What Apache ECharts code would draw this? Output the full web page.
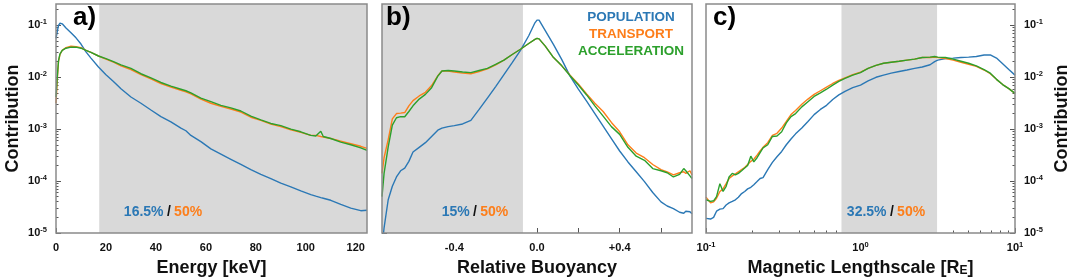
<!DOCTYPE html>
<html>
<head>
<meta charset="utf-8">
<script src="https://cdn.jsdelivr.net/npm/echarts@6/dist/echarts.min.js"></script>
<style>
  html, body { margin: 0; padding: 0; background: #fff; }
  #chart { width: 1072px; height: 279px; }
</style>
</head>
<body>
<div id="chart"></div>
<script>
// ---- panel a: energy ----
const energyKeV = [0, 0.5, 1, 1.6, 2.5, 4, 6, 8, 10, 12, 14, 17, 20, 23, 26, 30, 34, 38, 42, 46, 50, 52, 54, 58, 62, 66, 70, 74, 78, 82, 86, 90, 94, 98, 102, 104, 106, 107, 110, 114, 118, 122, 124.5]
const energyPop = [0.0562, 0.0759, 0.100, 0.110, 0.107, 0.0891, 0.0724, 0.0575, 0.0437, 0.0309, 0.0234, 0.0158, 0.0112, 0.00832, 0.00603, 0.00417, 0.00316, 0.00234, 0.00174, 0.00138, 0.00105, 0.000933, 0.000759, 0.000575, 0.000417, 0.000331, 0.000263, 0.000209, 0.000166, 0.000135, 0.000112, 0.0000912, 0.0000776, 0.0000646, 0.0000550, 0.0000513, 0.0000479, 0.0000468, 0.0000427, 0.0000355, 0.0000302, 0.0000269, 0.0000275]
const energyTrans = [0.00316, 0.00891, 0.0200, 0.0275, 0.0331, 0.0372, 0.0398, 0.0389, 0.0372, 0.0331, 0.0302, 0.0257, 0.0224, 0.0195, 0.0166, 0.0141, 0.0112, 0.00933, 0.00759, 0.00646, 0.00562, 0.00525, 0.00479, 0.00380, 0.00316, 0.00275, 0.00245, 0.00214, 0.00170, 0.00148, 0.00126, 0.00112, 0.000977, 0.000871, 0.000759, 0.000759, 0.000724, 0.000708, 0.000661, 0.000589, 0.000525, 0.000468, 0.000427]
const energyAccel = [0.00417, 0.0100, 0.0209, 0.0282, 0.0331, 0.0363, 0.0380, 0.0380, 0.0363, 0.0331, 0.0302, 0.0257, 0.0229, 0.0200, 0.0174, 0.0148, 0.0117, 0.00977, 0.00794, 0.00676, 0.00589, 0.00550, 0.00501, 0.00398, 0.00339, 0.00288, 0.00257, 0.00224, 0.00178, 0.00151, 0.00129, 0.00117, 0.00100, 0.000891, 0.000759, 0.000741, 0.000912, 0.000724, 0.000661, 0.000562, 0.000501, 0.000437, 0.000389]

// ---- panel b: relative buoyancy ----
const buoyancy = [-0.75, -0.74, -0.72, -0.70, -0.68, -0.66, -0.64, -0.62, -0.60, -0.57, -0.54, -0.51, -0.48, -0.46, -0.43, -0.40, -0.36, -0.32, -0.28, -0.24, -0.20, -0.16, -0.12, -0.08, -0.04, -0.01, 0.0, 0.01, 0.04, 0.08, 0.12, 0.16, 0.20, 0.24, 0.28, 0.32, 0.36, 0.40, 0.44, 0.48, 0.52, 0.56, 0.60, 0.63, 0.66, 0.69, 0.71, 0.72, 0.74, 0.75]
const buoyPop = [0.0000050, 0.0000126, 0.0000437, 0.0000794, 0.000120, 0.000158, 0.000178, 0.000240, 0.000363, 0.000447, 0.000550, 0.000724, 0.000955, 0.00105, 0.00112, 0.00117, 0.00126, 0.00148, 0.00240, 0.00398, 0.00661, 0.0112, 0.0191, 0.0331, 0.0631, 0.112, 0.126, 0.126, 0.0794, 0.0427, 0.0219, 0.0105, 0.00589, 0.00347, 0.00200, 0.00115, 0.000661, 0.000380, 0.000234, 0.000151, 0.0000977, 0.0000603, 0.0000398, 0.0000331, 0.0000295, 0.0000251, 0.0000240, 0.0000263, 0.0000257, 0.0000234]
const buoyTrans = [0.000141, 0.000282, 0.000631, 0.00158, 0.00200, 0.00204, 0.00209, 0.00282, 0.00355, 0.00437, 0.00513, 0.00692, 0.0107, 0.0132, 0.0132, 0.0126, 0.0120, 0.0117, 0.0129, 0.0145, 0.0174, 0.0214, 0.0275, 0.0347, 0.0447, 0.0537, 0.0562, 0.0550, 0.0398, 0.0240, 0.0166, 0.0110, 0.00741, 0.00479, 0.00316, 0.00219, 0.00135, 0.000891, 0.000501, 0.000347, 0.000282, 0.000209, 0.000166, 0.000151, 0.000132, 0.000145, 0.000151, 0.000141, 0.000158, 0.000132]
const buoyAccel = [0.0000501, 0.000141, 0.000457, 0.00120, 0.00166, 0.00174, 0.00174, 0.00219, 0.00282, 0.00380, 0.00468, 0.00631, 0.0105, 0.0132, 0.0135, 0.0132, 0.0126, 0.0123, 0.0135, 0.0148, 0.0178, 0.0214, 0.0275, 0.0347, 0.0447, 0.0537, 0.0562, 0.0550, 0.0398, 0.0240, 0.0166, 0.0107, 0.00708, 0.00457, 0.00282, 0.00178, 0.00112, 0.000794, 0.000447, 0.000302, 0.000251, 0.000174, 0.000158, 0.000145, 0.000120, 0.000135, 0.000174, 0.000158, 0.000126, 0.000112]

// ---- panel c: magnetic lengthscale ----
const lengthRE = [0.100, 0.107, 0.112, 0.117, 0.123, 0.129, 0.135, 0.141, 0.148, 0.155, 0.162, 0.170, 0.178, 0.186, 0.195, 0.204, 0.214, 0.224, 0.234, 0.251, 0.269, 0.288, 0.309, 0.331, 0.355, 0.380, 0.417, 0.457, 0.501, 0.550, 0.603, 0.661, 0.724, 0.794, 0.891, 1.0, 1.12, 1.26, 1.41, 1.58, 1.78, 2.00, 2.24, 2.51, 2.82, 3.02, 3.16, 3.55, 3.98, 4.47, 5.01, 5.62, 6.31, 6.92, 7.59, 8.32, 9.12, 10.0]
const lengthPop = [1.91e-5, 1.86e-5, 2.00e-5, 2.63e-5, 2.88e-5, 2.95e-5, 3.47e-5, 3.80e-5, 4.07e-5, 4.37e-5, 4.90e-5, 5.75e-5, 6.31e-5, 7.08e-5, 7.59e-5, 8.51e-5, 9.77e-5, 1.12e-4, 1.17e-4, 1.66e-4, 2.29e-4, 2.95e-4, 3.72e-4, 5.01e-4, 6.46e-4, 8.13e-4, 1.05e-3, 1.41e-3, 1.91e-3, 2.40e-3, 2.88e-3, 3.72e-3, 4.57e-3, 5.37e-3, 6.31e-3, 7.08e-3, 8.51e-3, 1.00e-2, 1.10e-2, 1.20e-2, 1.29e-2, 1.38e-2, 1.48e-2, 1.58e-2, 1.74e-2, 2.00e-2, 2.14e-2, 2.29e-2, 2.34e-2, 2.40e-2, 2.45e-2, 2.51e-2, 2.69e-2, 2.69e-2, 2.34e-2, 1.82e-2, 1.41e-2, 1.10e-2]
const lengthTrans = [4.90e-5, 3.80e-5, 3.98e-5, 4.68e-5, 6.31e-5, 7.08e-5, 8.91e-5, 1.12e-4, 1.26e-4, 1.38e-4, 1.51e-4, 1.66e-4, 1.82e-4, 2.09e-4, 2.40e-4, 2.63e-4, 3.16e-4, 3.80e-4, 4.47e-4, 5.50e-4, 7.59e-4, 8.32e-4, 1.05e-3, 1.41e-3, 1.91e-3, 2.29e-3, 3.02e-3, 3.80e-3, 4.68e-3, 5.50e-3, 6.46e-3, 7.59e-3, 8.71e-3, 9.77e-3, 1.12e-2, 1.26e-2, 1.48e-2, 1.70e-2, 1.86e-2, 1.95e-2, 2.04e-2, 2.14e-2, 2.24e-2, 2.40e-2, 2.40e-2, 2.45e-2, 2.40e-2, 2.29e-2, 2.14e-2, 1.95e-2, 1.78e-2, 1.62e-2, 1.38e-2, 1.17e-2, 9.12e-3, 7.24e-3, 6.03e-3, 4.90e-3]
const lengthAccel = [4.37e-5, 4.07e-5, 4.17e-5, 5.01e-5, 8.91e-5, 6.31e-5, 7.94e-5, 1.20e-4, 1.41e-4, 1.32e-4, 1.41e-4, 1.58e-4, 1.78e-4, 2.00e-4, 3.02e-4, 2.34e-4, 2.82e-4, 3.55e-4, 4.37e-4, 5.01e-4, 7.24e-4, 7.41e-4, 8.91e-4, 1.32e-3, 1.74e-3, 2.00e-3, 2.69e-3, 3.39e-3, 4.27e-3, 5.01e-3, 5.89e-3, 7.08e-3, 8.32e-3, 9.55e-3, 1.10e-2, 1.23e-2, 1.48e-2, 1.70e-2, 1.86e-2, 1.95e-2, 2.04e-2, 2.14e-2, 2.24e-2, 2.40e-2, 2.45e-2, 2.51e-2, 2.45e-2, 2.40e-2, 2.24e-2, 2.04e-2, 1.86e-2, 1.66e-2, 1.41e-2, 1.20e-2, 9.12e-3, 7.24e-3, 6.03e-3, 4.90e-3]

// shaded ranges and annotations
const shadeA = [17.3, 124.5]
const shadeB = [-0.75, -0.068]
const shadeC = [0.753, 3.13]
const shareLabels = [['16.5%', '50%'], ['15%', '50%'], ['32.5%', '50%']]
const legendNames = ['POPULATION', 'TRANSPORT', 'ACCELERATION']

// ticks
const yMajorTicks = [1e-5, 1e-4, 1e-3, 1e-2, 1e-1]
const yMinorTicks = []
for (const d of [1e-5, 1e-4, 1e-3, 1e-2, 1e-1]) for (let k = 2; k <= 9; k++) yMinorTicks.push(+(k * d).toPrecision(3))
const energyTicks = [0, 20, 40, 60, 80, 100, 120]
const buoyLabelTicks = [-0.4, 0, 0.4]
const buoyTicks = [-0.6, -0.4, -0.2, 0, 0.2, 0.4, 0.6]
const lengthMajorTicks = [0.1, 1, 10]
const lengthMinorTicks = [0.2, 0.3, 0.4, 0.5, 0.6, 0.7, 0.8, 0.9, 2, 3, 4, 5, 6, 7, 8, 9]

const BLUE = '#2b78b5', ORANGE = '#fd7e1a', GREEN = '#2ca02c'
const FONT = '"Liberation Sans", Arial, Helvetica, sans-serif'
const Y_MIN = 1e-5, Y_MAX = 0.258

const pair = (xs, ys) => xs.map((x, i) => [x, ys[i]])

const powLabel = {
  color: '#111', fontFamily: FONT, fontWeight: 'bold',
  formatter: v => '{b|10}{s|' + Math.round(Math.log10(v)) + '}',
  rich: {
    b: { fontSize: 11, fontWeight: 'bold', fontFamily: FONT, color: '#111', lineHeight: 14 },
    s: { fontSize: 7.5, fontWeight: 'bold', fontFamily: FONT, color: '#111', verticalAlign: 'top', lineHeight: 9 },
  },
}
const tickStyle = { color: '#555', width: 1 }
const noLine = { show: false, onZero: false }

function yAxes(gridIndex, pos, labels) {
  const major = {
    type: 'log', logBase: 10, gridIndex, position: pos, min: Y_MIN, max: Y_MAX,
    axisLine: noLine, splitLine: { show: false },
    axisTick: { inside: true, length: 5, lineStyle: tickStyle, customValues: yMajorTicks },
    axisLabel: labels ? { ...powLabel, margin: 9, customValues: yMajorTicks } : { show: false },
  }
  if (labels) {
    major.name = 'Contribution'
    major.nameLocation = 'middle'
    major.nameRotate = 90
    major.nameGap = pos === 'left' ? 34 : 38
    major.nameTextStyle = { fontFamily: FONT, fontWeight: 'bold', fontSize: 18, color: '#111' }
  }
  const minor = {
    type: 'log', logBase: 10, gridIndex, position: pos, min: Y_MIN, max: Y_MAX,
    axisLine: noLine, splitLine: { show: false },
    axisTick: { inside: true, length: 2.5, lineStyle: tickStyle, customValues: yMinorTicks },
    axisLabel: { show: false },
  }
  return [major, minor]
}

const xName = { fontFamily: FONT, fontWeight: 'bold', fontSize: 18, color: '#111' }
const xLabel = { color: '#111', fontFamily: FONT, fontWeight: 'bold', fontSize: 11, margin: 9 }

function lines(xs, pop, trans, accel, xi, yi, shade) {
  const base = { type: 'line', showSymbol: false, xAxisIndex: xi, yAxisIndex: yi, silent: true }
  return [
    { ...base, name: 'POPULATION', data: pair(xs, pop), itemStyle: { color: BLUE }, lineStyle: { width: 1.4, color: BLUE },
      markArea: { silent: true, itemStyle: { color: '#d9d9d9' }, data: [[{ xAxis: shade[0] }, { xAxis: shade[1] }]] } },
    { ...base, name: 'TRANSPORT', data: pair(xs, trans), itemStyle: { color: ORANGE }, lineStyle: { width: 1.4, color: ORANGE } },
    { ...base, name: 'ACCELERATION', data: pair(xs, accel), itemStyle: { color: GREEN }, lineStyle: { width: 1.4, color: GREEN } },
  ]
}

function shareText(i, cx) {
  return {
    type: 'text', x: cx, y: 212, z: 100,
    style: {
      text: '{p|' + shareLabels[i][0] + '} {k|/} {o|' + shareLabels[i][1] + '}',
      align: 'center', verticalAlign: 'middle',
      rich: {
        p: { fill: BLUE, fontSize: 14, fontWeight: 'bold', fontFamily: FONT },
        k: { fill: '#111', fontSize: 14, fontWeight: 'bold', fontFamily: FONT },
        o: { fill: ORANGE, fontSize: 14, fontWeight: 'bold', fontFamily: FONT },
      },
    },
  }
}
const panelLetter = (t, x) => ({
  type: 'text', x, y: 18, z: 100,
  style: { text: t, fill: '#000', fontSize: 26, fontWeight: 'bold', fontFamily: FONT, align: 'left', verticalAlign: 'middle' },
})
const legendText = (i, y, color) => ({
  type: 'text', x: 631, y, z: 100,
  style: { text: legendNames[i], fill: color, fontSize: 13.5, fontWeight: 'bold', fontFamily: FONT, align: 'center', verticalAlign: 'middle' },
})

const gridBase = {
  show: true, borderColor: '#8a8a8a', borderWidth: 1.5, backgroundColor: 'transparent',
  top: 4, height: 229, z: 5, outerBoundsMode: 'none', containLabel: false,
}

const chart = echarts.init(document.getElementById('chart'), null, { renderer: 'canvas' })
chart.setOption({
  animation: false,
  backgroundColor: '#fff',
  grid: [
    { ...gridBase, left: 56, width: 311 },
    { ...gridBase, left: 382, width: 310 },
    { ...gridBase, left: 706, width: 309 },
  ],
  xAxis: [
    { type: 'value', gridIndex: 0, min: 0, max: 124.5, position: 'bottom',
      axisLine: noLine, splitLine: { show: false },
      axisTick: { inside: true, length: 5, lineStyle: tickStyle, customValues: energyTicks },
      axisLabel: { ...xLabel, customValues: energyTicks },
      name: 'Energy [keV]', nameLocation: 'middle', nameGap: 26, nameTextStyle: xName },
    { type: 'value', gridIndex: 1, min: -0.75, max: 0.75, position: 'bottom',
      axisLine: noLine, splitLine: { show: false },
      axisTick: { inside: true, length: 5, lineStyle: tickStyle, customValues: buoyTicks },
      axisLabel: { ...xLabel, customValues: buoyLabelTicks, formatter: v => (v > 0.001 ? '+' : '') + v.toFixed(1) },
      name: 'Relative Buoyancy', nameLocation: 'middle', nameGap: 26, nameTextStyle: xName },
    { type: 'log', logBase: 10, gridIndex: 2, min: 0.1, max: 10, position: 'bottom',
      axisLine: noLine, splitLine: { show: false },
      axisTick: { inside: true, length: 5, lineStyle: tickStyle, customValues: lengthMajorTicks },
      axisLabel: { ...powLabel, margin: 8, customValues: lengthMajorTicks },
      name: '{n|Magnetic Lengthscale [R}{sub|E}{n|]}', nameLocation: 'middle', nameGap: 26,
      nameTextStyle: { ...xName, rich: {
        n: { fontFamily: FONT, fontWeight: 'bold', fontSize: 18, color: '#111' },
        sub: { fontFamily: FONT, fontWeight: 'bold', fontSize: 12, color: '#111', verticalAlign: 'bottom', padding: [6, 0, 0, 0] },
      } } },
    { type: 'log', logBase: 10, gridIndex: 2, min: 0.1, max: 10, position: 'bottom',
      axisLine: noLine, splitLine: { show: false },
      axisTick: { inside: true, length: 2.5, lineStyle: tickStyle, customValues: lengthMinorTicks },
      axisLabel: { show: false } },
  ],
  yAxis: [
    ...yAxes(0, 'left', true),
    ...yAxes(1, 'left', false),
    ...yAxes(2, 'right', true),
  ],
  series: [
    ...lines(energyKeV, energyPop, energyTrans, energyAccel, 0, 0, shadeA),
    ...lines(buoyancy, buoyPop, buoyTrans, buoyAccel, 1, 2, shadeB),
    ...lines(lengthRE, lengthPop, lengthTrans, lengthAccel, 2, 4, shadeC),
  ],
  graphic: [
    panelLetter('a)', 73),
    panelLetter('b)', 386),
    panelLetter('c)', 713),
    legendText(0, 17, BLUE),
    legendText(1, 34, ORANGE),
    legendText(2, 51, GREEN),
    shareText(0, 163),
    shareText(1, 475),
    shareText(2, 886),
  ],
})
</script>
</body>
</html>
